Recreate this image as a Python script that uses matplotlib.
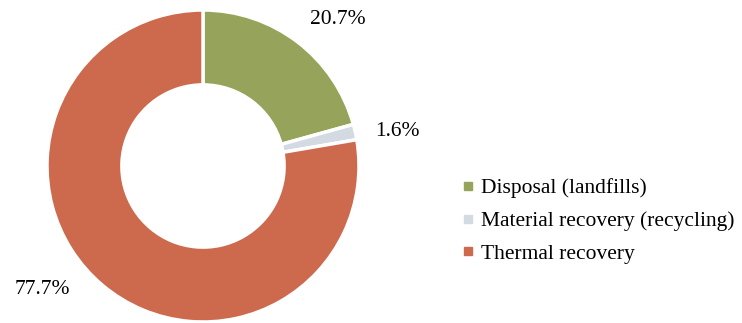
import matplotlib.pyplot as plt
from matplotlib.lines import Line2D

categories = ["Disposal (landfills)", "Material recovery (recycling)", "Thermal recovery"]
shares = [20.7, 1.6, 77.7]
labels = ["20.7%", "1.6%", "77.7%"]
colors = ["#95A45A", "#D3DAE2", "#CD6A4E"]

W, H = 742, 323
plt.rcParams["font.family"] = ["Liberation Serif", "DejaVu Serif"]

fig = plt.figure(figsize=(W / 100, H / 100), dpi=100)

# donut centre ~(203,166) px, outer radius ~155 px
cx, cy, r = 203, 166, 156
ax = fig.add_axes([(cx - r) / W, (H - cy - r) / H, 2 * r / W, 2 * r / H])
wedges, _ = ax.pie(shares, colors=colors, startangle=90, counterclock=False,
                   radius=1.0, wedgeprops=dict(width=0.48, edgecolor="white", linewidth=2.5))
ax.set_xlim(-1, 1)
ax.set_ylim(-1, 1)
ax.set_aspect("equal")
ax.axis("off")

# percentage labels (pixel positions of text centres)
label_pos = [(338, 20), (397, 131), (42, 289)]
for txt, (x, y) in zip(labels, label_pos):
    fig.text(x / W, 1 - y / H, txt, ha="center", va="center", fontsize=15.5)

handles = [Line2D([], [], linestyle="none", marker="s", markersize=6,
                  markerfacecolor=c, markeredgecolor=c) for c in colors]
fig.legend(handles, categories, loc="center left", bbox_to_anchor=(452 / W, 1 - 221 / H),
           frameon=False, fontsize=15.5, handlelength=0.5, handletextpad=0.35,
           labelspacing=0.6, borderpad=0)

fig.savefig("out.png", dpi=100)
